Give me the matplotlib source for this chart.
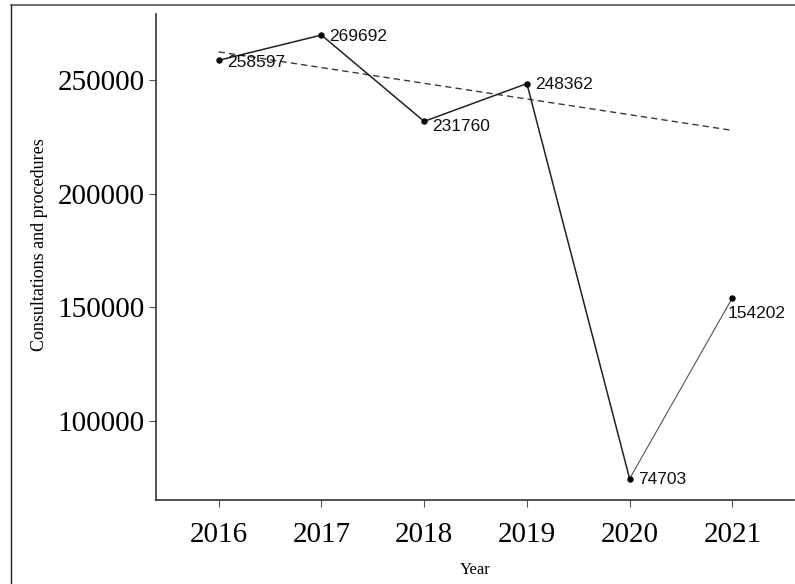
import matplotlib
matplotlib.use("Agg")
import matplotlib.pyplot as plt
from matplotlib.lines import Line2D

# data
years = [2016, 2017, 2018, 2019, 2020, 2021]
visits = [258597, 269692, 231760, 248362, 74703, 154202]
trend = [262300, 255400, 248500, 241600, 234700, 227800]
yticks = [100000, 150000, 200000, 250000]

# label nudges in points (dx, dy), repel-like placement
nudge = [(5.8, -1.5), (5.8, -0.7), (5.8, -3.6), (5.8, -0.7), (5.8, -0.7), (-3.6, -11.5)]

fig = plt.figure(figsize=(7.95, 5.84), dpi=100)
ax = fig.add_axes([156 / 795, 84 / 584, 638 / 795, 486 / 584])

ax.plot(years, trend, ls=(0, (4.5, 3)), color="#3a3a3a", lw=1.0)
ax.plot(years[:5], visits[:5], color="#222222", lw=1.1)
ax.plot(years[4:], visits[4:], color="#555555", lw=0.8)
ax.plot(years, visits, "o", color="black", ms=3.6)

for x, y, (dx, dy) in zip(years, visits, nudge):
    ax.annotate(str(y), (x, y), xytext=(dx, dy), textcoords="offset points",
                ha="left", va="center", fontsize=12.5,
                family="Liberation Sans", color="#111111")

ax.set_xlim(2015.39, 2021.6)
ax.set_ylim(65350, 278950)
ax.set_xticks(years)
ax.set_yticks(yticks)
ax.set_xticklabels([str(y) for y in years], family="Liberation Serif", fontsize=21)
ax.set_yticklabels([str(v) for v in yticks], family="Liberation Serif", fontsize=21)
ax.tick_params(length=5, width=0.8, color="#555555", pad=3)
ax.tick_params(axis="x", pad=11)

for s in ["top", "right"]:
    ax.spines[s].set_visible(False)
for s in ["left", "bottom"]:
    ax.spines[s].set_color("#333333")
    ax.spines[s].set_linewidth(1.2)

ax.set_xlabel("Year", family="Liberation Serif", fontsize=12, labelpad=10)
ax.set_ylabel("Consultations and procedures", family="Liberation Serif", fontsize=13)
ax.yaxis.set_label_coords(-0.169, 0.525)

# frame of the original screenshot (top and left edges)
fig.add_artist(Line2D([10.5 / 795, 1], [1 - 4.5 / 584] * 2, color="#555555", lw=1.2,
                      transform=fig.transFigure))
fig.add_artist(Line2D([10.5 / 795] * 2, [0, 1 - 4.5 / 584], color="#222222", lw=1.0,
                      transform=fig.transFigure))

fig.savefig("out.png", dpi=100)
